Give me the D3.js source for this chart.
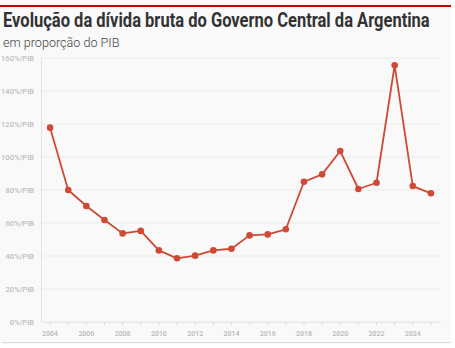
<!DOCTYPE html>
<html>
<head>
<meta charset="utf-8">
<script src="https://cdn.jsdelivr.net/npm/d3@7"></script>
<style>
  html, body { margin: 0; padding: 0; background: #ffffff; }
  svg { display: block; }
</style>
</head>
<body>
<svg id="chart" width="455" height="348"></svg>
<script>
// Gross debt of Argentina's Central Government, % of GDP
const years = [2004, 2005, 2006, 2007, 2008, 2009, 2010, 2011, 2012, 2013, 2014,
               2015, 2016, 2017, 2018, 2019, 2020, 2021, 2022, 2023, 2024, 2025];
const debtPctGdp = [117.8, 80.0, 70.3, 61.8, 53.7, 55.2, 43.4, 38.6, 40.2, 43.4, 44.4,
                    52.5, 53.1, 56.2, 85.0, 89.5, 103.6, 80.6, 84.4, 155.6, 82.4, 78.0];
const yTicks = [0, 20, 40, 60, 80, 100, 120, 140, 160];
const xLabelYears = [2004, 2006, 2008, 2010, 2012, 2014, 2016, 2018, 2020, 2022, 2024];

const svg = d3.select("#chart");

// card background
svg.append("rect").attr("x", 0).attr("y", 0).attr("width", 451).attr("height", 343)
  .attr("fill", "#f9f9f9");
// top accent line
svg.append("rect").attr("x", 0).attr("y", 5).attr("width", 451).attr("height", 2)
  .attr("fill", "#cc0000");
// bottom rule
svg.append("rect").attr("x", 2).attr("y", 342).attr("width", 449).attr("height", 1.2)
  .attr("fill", "#dddddd");

// title, condensed horizontally to fit the card width
const title = svg.append("text")
  .attr("x", 0).attr("y", 0)
  .attr("font-family", "Roboto, sans-serif")
  .attr("font-weight", 700)
  .attr("font-size", 20)
  .attr("fill", "#333333")
  .text("Evolução da dívida bruta do Governo Central da Argentina");
const tw = title.node().getComputedTextLength();
title.attr("transform", `translate(3,27) scale(${427 / tw},1)`);

svg.append("text")
  .attr("x", 3).attr("y", 46.5)
  .attr("font-family", "Roboto, sans-serif")
  .attr("font-weight", 300)
  .attr("font-size", 12.6)
  .attr("fill", "#444444")
  .text("em proporção do PIB");

// scales
const x = d3.scaleBand().domain(years).range([41, 440]);
const y = d3.scaleLinear().domain([0, 160]).range([322, 58]);
const cx = d => x(d) + x.bandwidth() / 2;

// horizontal gridlines
svg.append("g").selectAll("line").data(yTicks).join("line")
  .attr("x1", 41).attr("x2", 440)
  .attr("y1", d => y(d)).attr("y2", d => y(d))
  .attr("stroke", "#ebebeb").attr("stroke-width", 1);

// y axis line
svg.append("line")
  .attr("x1", 41.5).attr("x2", 41.5).attr("y1", 58).attr("y2", 322)
  .attr("stroke", "#e2e2e2").attr("stroke-width", 1);

// y tick labels
svg.append("g").selectAll("text").data(yTicks).join("text")
  .attr("x", 34).attr("y", d => y(d) + 3)
  .attr("text-anchor", "end")
  .attr("font-family", "Roboto, sans-serif")
  .attr("font-weight", 500)
  .attr("font-size", 7.5)
  .attr("fill", "#bdbdbd")
  .text(d => d + "%/PIB");

// x axis ticks and labels
const xAxis = d3.axisBottom(x).tickSize(4).tickSizeOuter(0)
  .tickFormat(d => xLabelYears.includes(d) ? d : "");
const gx = svg.append("g").attr("transform", "translate(0,322)").call(xAxis);
gx.select(".domain").attr("stroke", "#e6e6e6");
gx.selectAll(".tick line").attr("stroke", "#e0e0e0");
gx.selectAll(".tick text")
  .attr("dy", "0")
  .attr("y", 14)
  .attr("font-family", "Roboto, sans-serif")
  .attr("font-weight", 500)
  .attr("font-size", 7)
  .attr("fill", "#b8b8b8");

// series line
const data = years.map((yr, i) => ({ yr, v: debtPctGdp[i] }));
svg.append("path")
  .datum(data)
  .attr("fill", "none")
  .attr("stroke", "#cf4a36")
  .attr("stroke-width", 1.8)
  .attr("stroke-linejoin", "round")
  .attr("d", d3.line().x(d => cx(d.yr)).y(d => y(d.v)));

svg.append("g").selectAll("circle").data(data).join("circle")
  .attr("cx", d => cx(d.yr)).attr("cy", d => y(d.v))
  .attr("r", 3.3)
  .attr("fill", "#cf4a36");
</script>
</body>
</html>
